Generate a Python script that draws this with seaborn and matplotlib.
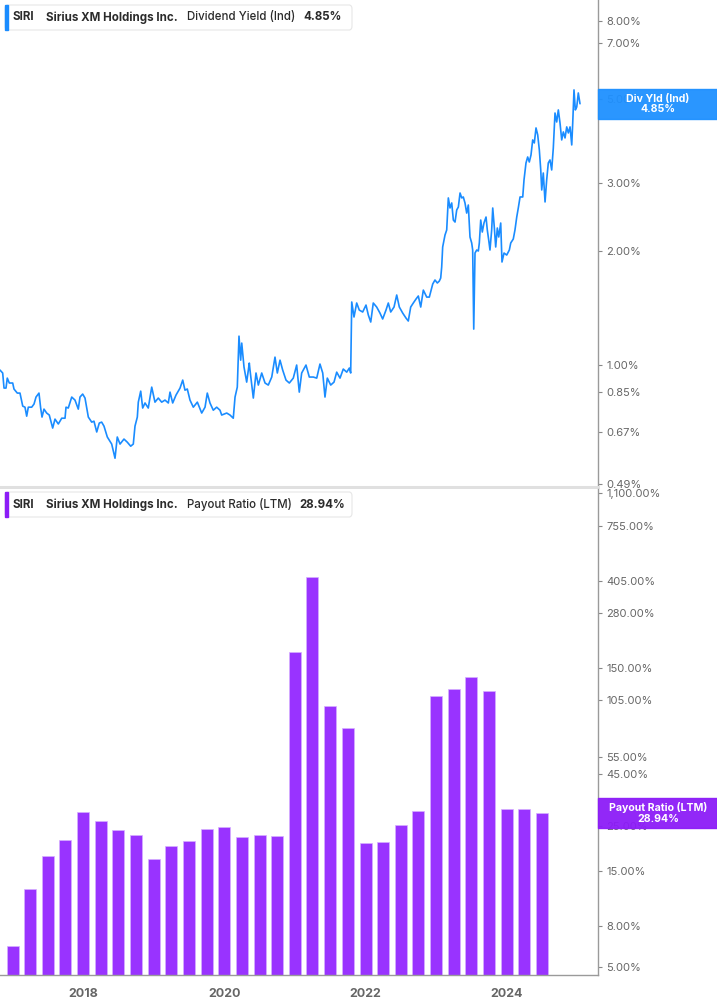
import numpy as np
import pandas as pd
import matplotlib
matplotlib.use("Agg")
import matplotlib.pyplot as plt
import matplotlib.ticker as mticker
from matplotlib.patches import Rectangle, FancyBboxPatch
import seaborn as sns

# SIRI indicated dividend yield (%), sampled by eye off the chart, time in decimal years
yield_time = [
    2016.820, 2016.858, 2016.877, 2016.905, 2016.923, 2016.952, 2017.000, 2017.018, 2017.065, 2017.103,
    2017.142, 2017.174, 2017.198, 2017.221, 2017.269, 2017.302, 2017.330, 2017.372, 2017.396, 2017.415,
    2017.443, 2017.481, 2017.518, 2017.566, 2017.599, 2017.646, 2017.694, 2017.741, 2017.755, 2017.787,
    2017.836, 2017.882, 2017.929, 2017.953, 2017.991, 2018.024, 2018.071, 2018.119, 2018.151, 2018.190,
    2018.226, 2018.260, 2018.293, 2018.340, 2018.402, 2018.449, 2018.481, 2018.520, 2018.576, 2018.623,
    2018.671, 2018.708, 2018.732, 2018.765, 2018.779, 2018.813, 2018.841, 2018.874, 2018.920, 2018.969,
    2019.015, 2019.062, 2019.110, 2019.157, 2019.204, 2019.228, 2019.266, 2019.313, 2019.370, 2019.408,
    2019.440, 2019.473, 2019.511, 2019.558, 2019.615, 2019.677, 2019.724, 2019.756, 2019.794, 2019.841,
    2019.889, 2019.936, 2019.960, 2020.031, 2020.078, 2020.124, 2020.149, 2020.181, 2020.205, 2020.229,
    2020.244, 2020.276, 2020.314, 2020.351, 2020.361, 2020.408, 2020.446, 2020.479, 2020.527, 2020.574,
    2020.620, 2020.669, 2020.715, 2020.748, 2020.786, 2020.824, 2020.871, 2020.918, 2020.974, 2021.022,
    2021.059, 2021.093, 2021.154, 2021.201, 2021.258, 2021.306, 2021.352, 2021.391, 2021.423, 2021.456,
    2021.504, 2021.551, 2021.589, 2021.636, 2021.682, 2021.731, 2021.768, 2021.787, 2021.802, 2021.834,
    2021.872, 2021.909, 2021.957, 2022.004, 2022.037, 2022.071, 2022.107, 2022.155, 2022.202, 2022.240,
    2022.287, 2022.320, 2022.354, 2022.401, 2022.439, 2022.476, 2022.524, 2022.571, 2022.603, 2022.637,
    2022.674, 2022.712, 2022.745, 2022.779, 2022.816, 2022.864, 2022.901, 2022.949, 2022.981, 2023.014,
    2023.042, 2023.062, 2023.076, 2023.090, 2023.123, 2023.147, 2023.170, 2023.194, 2023.218, 2023.241,
    2023.265, 2023.289, 2023.312, 2023.336, 2023.360, 2023.382, 2023.406, 2023.430, 2023.453, 2023.477,
    2023.501, 2023.515, 2023.530, 2023.548, 2023.572, 2023.595, 2023.609, 2023.629, 2023.651, 2023.675,
    2023.704, 2023.722, 2023.742, 2023.760, 2023.784, 2023.799, 2023.821, 2023.841, 2023.864, 2023.884,
    2023.912, 2023.930, 2023.959, 2023.997, 2024.034, 2024.054, 2024.090, 2024.114, 2024.139, 2024.161,
    2024.186, 2024.224, 2024.242, 2024.270, 2024.294, 2024.317, 2024.341, 2024.365, 2024.388, 2024.412,
    2024.436, 2024.459, 2024.479, 2024.493, 2024.515, 2024.540, 2024.563, 2024.586, 2024.610, 2024.634,
    2024.657, 2024.681, 2024.705, 2024.728, 2024.752, 2024.776, 2024.799, 2024.823, 2024.847, 2024.870,
    2024.894, 2024.918, 2024.932, 2024.950, 2024.969, 2024.989, 2025.011, 2025.035,
]
yield_pct = [
    0.972, 0.955, 0.872, 0.872, 0.926, 0.899, 0.899, 0.867, 0.846, 0.846,
    0.782, 0.777, 0.736, 0.777, 0.777, 0.792, 0.826, 0.846, 0.773, 0.732,
    0.768, 0.750, 0.741, 0.685, 0.723, 0.702, 0.727, 0.727, 0.777, 0.773,
    0.826, 0.811, 0.768, 0.826, 0.841, 0.821, 0.732, 0.710, 0.714, 0.669,
    0.706, 0.710, 0.693, 0.649, 0.622, 0.571, 0.649, 0.622, 0.641, 0.629,
    0.614, 0.622, 0.693, 0.732, 0.801, 0.856, 0.773, 0.797, 0.773, 0.877,
    0.801, 0.821, 0.801, 0.811, 0.797, 0.851, 0.797, 0.836, 0.872, 0.915,
    0.861, 0.867, 0.811, 0.777, 0.801, 0.750, 0.777, 0.846, 0.797, 0.763,
    0.777, 0.763, 0.741, 0.750, 0.741, 0.727, 0.826, 0.877, 1.193, 1.032,
    1.144, 0.990, 0.904, 1.014, 0.972, 0.821, 0.955, 0.888, 0.955, 0.899,
    0.888, 0.932, 1.051, 0.955, 1.032, 0.972, 0.915, 0.899, 0.926, 1.002,
    0.851, 0.955, 1.002, 0.932, 0.932, 0.926, 1.008, 0.955, 0.826, 0.926,
    0.888, 0.904, 0.960, 0.926, 0.978, 0.960, 0.984, 0.955, 1.466, 1.339,
    1.457, 1.396, 1.380, 1.439, 1.355, 1.299, 1.457, 1.422, 1.371, 1.323,
    1.396, 1.457, 1.380, 1.422, 1.529, 1.422, 1.371, 1.330, 1.307, 1.422,
    1.457, 1.492, 1.520, 1.422, 1.575, 1.510, 1.510, 1.634, 1.674, 1.644,
    1.663, 1.694, 1.810, 2.043, 2.196, 2.264, 2.747, 2.585, 2.665, 2.404,
    2.375, 2.555, 2.600, 2.830, 2.747, 2.763, 2.665, 2.507, 2.632, 2.170,
    2.093, 2.006, 1.245, 1.970, 2.006, 1.994, 2.093, 2.404, 2.236, 2.361,
    2.448, 2.264, 2.131, 2.006, 2.264, 2.585, 2.305, 2.043, 2.291, 2.170,
    2.361, 1.866, 1.970, 1.946, 2.006, 2.093, 2.144, 2.264, 2.448, 2.585,
    2.763, 2.763, 3.062, 3.392, 3.517, 3.412, 3.560, 3.898, 3.828, 4.191,
    4.018, 3.670, 3.252, 2.882, 3.193, 2.681, 3.062, 3.392, 3.455, 3.252,
    3.714, 4.586, 4.344, 4.672, 4.318, 3.898, 4.091, 3.945, 4.217, 4.066,
    4.217, 3.782, 4.318, 5.272, 4.672, 4.757, 5.176, 4.850,
]

# quarterly payout ratio (LTM, %)
quarter_ends = [
    "2016-12-31",
    "2017-03-31", "2017-06-30", "2017-09-30", "2017-12-31",
    "2018-03-31", "2018-06-30", "2018-09-30", "2018-12-31",
    "2019-03-31", "2019-06-30", "2019-09-30", "2019-12-31",
    "2020-03-31", "2020-06-30", "2020-09-30", "2020-12-31",
    "2021-03-31", "2021-06-30", "2021-09-30", "2021-12-31",
    "2022-03-31", "2022-06-30", "2022-09-30", "2022-12-31",
    "2023-03-31", "2023-06-30", "2023-09-30", "2023-12-31",
    "2024-03-31", "2024-06-30",
]
payout_pct = [
    6.4,
    12.2, 17.7, 21.2, 29.4,
    26.3, 23.8, 22.4, 17.1,
    19.9, 21.1, 24.0, 24.8,
    21.9, 22.4, 22.3, 181.0,
    423.0, 97.7, 76.3, 20.5,
    20.9, 25.3, 29.7, 110.0,
    119.0, 136.0, 116.0, 30.4,
    30.4, 28.94,
]

year_ticks = [2018, 2020, 2022, 2024]
yield_ticks = [0.49, 0.67, 0.85, 1.0, 2.0, 3.0, 5.0, 7.0, 8.0]
payout_ticks = [5, 8, 15, 25, 45, 55, 105, 150, 280, 405, 755, 1100]

BLUE = "#1a8cff"
PURPLE = "#9933ff"
PURPLE_TAG = "#8c1cf7"
GRAY_TXT = "#666666"
DARK = "#2b2b2b"

sns.set_style("white")
plt.rcParams["font.family"] = ["Inter", "DejaVu Sans"]

W, H = 717, 1005
fig = plt.figure(figsize=(W / 100, H / 100), dpi=100)
ax1 = fig.add_axes([0, 1 - 487 / H, 598 / W, 487 / H])
ax2 = fig.add_axes([0, 1 - 975 / H, 598 / W, (975 - 489) / H])

xlim = (2016.820, 2025.290)

# top: dividend yield line
df_y = pd.DataFrame({"t": yield_time, "v": yield_pct})
ax1.set_yscale("log")
sns.lineplot(data=df_y, x="t", y="v", ax=ax1, color=BLUE, linewidth=1.2, estimator=None)
ax1.set_ylim(0.480, 9.07)

# bottom: payout ratio bars
qdates = pd.to_datetime(quarter_ends)
qt = qdates.year + (qdates.dayofyear - 0.5) / np.where(qdates.is_leap_year, 366, 365)
df_p = pd.DataFrame({"t": np.asarray(qt, dtype=float), "v": payout_pct})
ax2.set_yscale("log")
sns.barplot(data=df_p, x="t", y="v", ax=ax2, native_scale=True, color=PURPLE,
            width=0.69, saturation=1, edgecolor="#d6b0ff", linewidth=0.5, errorbar=None)
ax2.set_ylim(4.58, 1154)

for ax in (ax1, ax2):
    ax.set_xlim(*xlim)
    ax.set_xlabel("")
    ax.set_ylabel("")
    ax.yaxis.tick_right()
    ax.yaxis.set_minor_locator(mticker.NullLocator())
    ax.tick_params(axis="y", which="both", direction="out", length=3, width=0.8,
                   color="#888888", labelsize=8.0, labelcolor=GRAY_TXT, pad=3)
    for s in ("left", "top"):
        ax.spines[s].set_visible(False)
    ax.spines["right"].set_color("#9a9a9a")
    ax.spines["right"].set_linewidth(1.0)

ax1.set_yticks(yield_ticks)
ax1.set_yticklabels([f"{v:,.2f}%" for v in yield_ticks])
ax1.set_xticks([])
ax1.spines["bottom"].set_color("#e0e0e0")
ax1.spines["bottom"].set_linewidth(2.2)

ax2.set_yticks(payout_ticks)
ax2.set_yticklabels([f"{v:,.2f}%" for v in payout_ticks])
ax2.set_xticks(year_ticks)
ax2.set_xticklabels([str(y) for y in year_ticks])
ax2.tick_params(axis="x", direction="out", length=4, width=0.8, color="#999999",
                labelsize=9, labelcolor=GRAY_TXT, pad=5)
for lab in ax2.get_xticklabels():
    lab.set_fontweight("bold")
ax2.spines["bottom"].set_color("#9a9a9a")
ax2.spines["bottom"].set_linewidth(1.0)

value_x = {"Dividend Yield (Ind)": 303, "Payout Ratio (LTM)": 299}


def header(top_px, color, metric, value):
    bh = 25
    box = FancyBboxPatch((5 / W, 1 - (top_px + bh) / H), 347 / W, bh / H,
                         boxstyle="round,pad=0,rounding_size=0.004",
                         transform=fig.transFigure, fc="white", ec="#e6e6e6", lw=0.8, zorder=5)
    fig.patches.append(box)
    fig.patches.append(Rectangle((5 / W, 1 - (top_px + bh) / H), 3 / W, bh / H,
                                 transform=fig.transFigure, color=color, zorder=6))
    yc = 1 - (top_px + bh / 2) / H
    for txt, x, wt in [("SIRI", 13, "bold"), ("Sirius XM Holdings Inc.", 46, "bold"),
                       (metric, 187, "medium"), (value, value_x[metric], "bold")]:
        fig.text(x / W, yc, txt, fontsize=8.3, fontweight=wt, color=DARK,
                 va="center", ha="left", zorder=7)


def value_tag(ax, val, color, label):
    yd = ax.transData.transform((xlim[0], val))[1]
    yc = fig.transFigure.inverted().transform((0, yd))[1]
    h = 30 / H
    fig.patches.append(Rectangle((598 / W, yc - h / 2), 1 - 598 / W, h,
                                 transform=fig.transFigure, color=color, alpha=0.95, zorder=5))
    fig.text(658 / W, yc, f"{label}\n{val:.2f}%", fontsize=7.6, fontweight="bold",
             color="white", ha="center", va="center", linespacing=1.05, zorder=7)


header(5, BLUE, "Dividend Yield (Ind)", f"{yield_pct[-1]:.2f}%")
header(492, "#8c1cf7", "Payout Ratio (LTM)", f"{payout_pct[-1]:.2f}%")

value_tag(ax1, yield_pct[-1], "#1e90ff", "Div Yld (Ind)")
value_tag(ax2, payout_pct[-1], PURPLE_TAG, "Payout Ratio (LTM)")

fig.savefig("out.png", dpi=100)
